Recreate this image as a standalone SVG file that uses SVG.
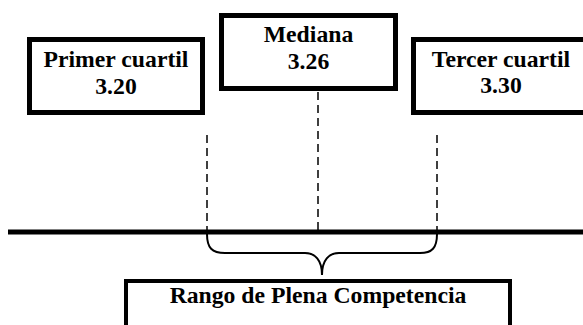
<svg xmlns="http://www.w3.org/2000/svg" width="583" height="325" viewBox="0 0 583 325">
<style>
.box{fill:#fff;stroke:#000;stroke-width:5}
.lbl{font-family:"Liberation Serif","Times New Roman",serif;font-weight:bold;font-size:23.7px;fill:#000;text-anchor:middle}
.dash{stroke:#000;stroke-width:1.5;stroke-dasharray:8 5;fill:none}
</style>
<rect width="583" height="325" fill="#fff"/>
<g id="connectors">
<line class="dash" x1="207" y1="135" x2="207" y2="232"/>
<line class="dash" x1="318" y1="92" x2="318" y2="232"/>
<line class="dash" x1="437" y1="135" x2="437" y2="232"/>
<line x1="8" y1="232" x2="583" y2="232" stroke="#000" stroke-width="5"/>
<path d="M207,234 C207,248 212,253 225,253 L305,253 C315,253 322,260 322,275 C322,260 329,253 339,253 L420,253 C432,253 437,248 437,234" fill="none" stroke="#000" stroke-width="2"/>
</g>
<g id="primer">
<rect class="box" x="29.5" y="39.5" width="173" height="73"/>
<text class="lbl" x="116" y="67">Primer cuartil</text>
<text class="lbl" x="116" y="94">3.20</text>
</g>
<g id="mediana">
<rect class="box" x="221.5" y="15.5" width="174" height="73"/>
<text class="lbl" x="308.5" y="42">Mediana</text>
<text class="lbl" x="308.5" y="69">3.26</text>
</g>
<g id="tercer">
<rect class="box" x="413.5" y="39.5" width="180" height="73"/>
<text class="lbl" x="501" y="67">Tercer cuartil</text>
<text class="lbl" x="501" y="93">3.30</text>
</g>
<g id="rango">
<rect x="126" y="281" width="384" height="60" fill="#fff" stroke="#000" stroke-width="4"/>
<text class="lbl" x="318" y="303">Rango de Plena Competencia</text>
</g>
</svg>
